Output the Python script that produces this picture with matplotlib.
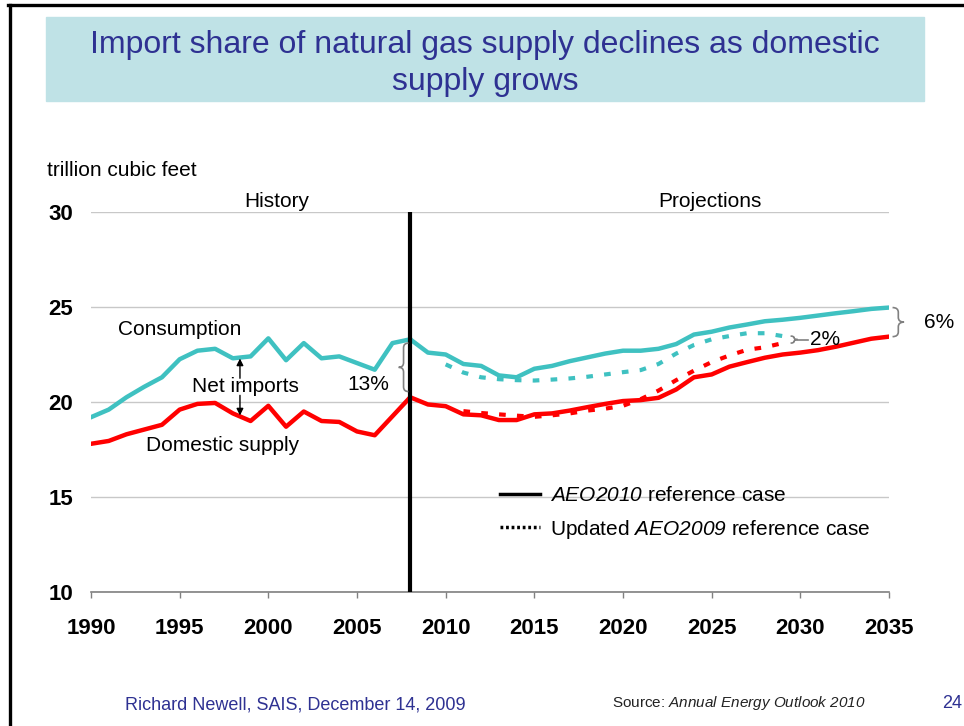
import numpy as np
import matplotlib
matplotlib.use("Agg")
import matplotlib.pyplot as plt
from matplotlib.path import Path
from matplotlib.patches import PathPatch, Rectangle
from matplotlib.lines import Line2D

plt.rcParams['font.family'] = ['Liberation Sans', 'DejaVu Sans']
plt.rcParams['mathtext.fontset'] = 'custom'
# math text is only used for the italic bits, so digits go italic too
plt.rcParams['mathtext.rm'] = 'Liberation Sans:italic'
plt.rcParams['mathtext.it'] = 'Liberation Sans:italic'

# history, trillion cubic feet
hist_years = list(range(1990, 2009))
consumption_hist = [19.2, 19.6, 20.25, 20.8, 21.3, 22.25, 22.7, 22.8, 22.3, 22.4,
                    23.35, 22.2, 23.1, 22.3, 22.4, 22.05, 21.7, 23.1, 23.3]
domestic_hist = [17.8, 17.95, 18.3, 18.55, 18.8, 19.6, 19.9, 19.95, 19.4, 19.0,
                 19.8, 18.7, 19.5, 19.0, 18.95, 18.45, 18.25, 19.25, 20.25]

# AEO2010 reference case
proj_years = list(range(2008, 2036))
consumption_2010 = [23.3, 22.6, 22.5, 22.0, 21.9, 21.4, 21.3, 21.75, 21.9, 22.15,
                    22.35, 22.55, 22.7, 22.7, 22.8, 23.05, 23.55, 23.7, 23.92, 24.08,
                    24.25, 24.33, 24.43, 24.55, 24.67, 24.78, 24.9, 24.97]
domestic_2010 = [20.25, 19.87, 19.78, 19.35, 19.3, 19.05, 19.05, 19.35, 19.4, 19.55,
                 19.73, 19.9, 20.05, 20.1, 20.22, 20.66, 21.3, 21.45, 21.86, 22.1,
                 22.33, 22.5, 22.6, 22.73, 22.91, 23.12, 23.33, 23.44]

# updated AEO2009 reference case
cons09_years = list(range(2010, 2030))
consumption_2009 = [21.98, 21.55, 21.3, 21.2, 21.15, 21.13, 21.18, 21.24, 21.33, 21.45,
                    21.57, 21.68, 22.0, 22.55, 23.0, 23.3, 23.47, 23.62, 23.62, 23.47]
dom09_years = list(range(2011, 2030))
domestic_2009 = [19.52, 19.42, 19.35, 19.28, 19.22, 19.3, 19.4, 19.55, 19.65, 19.8,
                 20.15, 20.6, 21.15, 21.65, 22.1, 22.45, 22.75, 22.88, 23.1]

x_ticks = list(range(1990, 2036, 5))
y_ticks = [10, 15, 20, 25, 30]

CYAN = '#3fc1c1'
RED = '#ff0000'
NAVY = '#2e3192'


def brace(ax, x, y0, y1, w, r=0.25, **kw):
    # curly brace with flat side at x, tip at x + w
    ym = (y0 + y1) / 2
    h = x + w / 2
    verts = [(x, y0), (h, y0), (h, y0 + r), (h, ym - r), (h, ym), (x + w, ym),
             (h, ym), (h, ym + r), (h, y1 - r), (h, y1), (x, y1)]
    codes = [Path.MOVETO, Path.CURVE3, Path.CURVE3, Path.LINETO, Path.CURVE3, Path.CURVE3,
             Path.CURVE3, Path.CURVE3, Path.LINETO, Path.CURVE3, Path.CURVE3]
    ax.add_patch(PathPatch(Path(verts, codes), fill=False, **kw))


fig = plt.figure(figsize=(9.64, 7.26), dpi=100)

# slide frame and title box
fig.add_artist(Line2D([8 / 964, 1], [1 - 4.5 / 726] * 2, color='black', lw=2.4))
fig.add_artist(Line2D([10 / 964] * 2, [0, 1 - 4.5 / 726], color='black', lw=2.4))
fig.add_artist(Rectangle((46 / 964, 1 - 101 / 726), 878 / 964, 84 / 726,
                         transform=fig.transFigure, color='#bfe2e6', zorder=0))
fig.text(485 / 964, 1 - 45 / 726, 'Import share of natural gas supply declines as domestic',
         ha='center', va='center', fontsize=23, color=NAVY)
fig.text(485 / 964, 1 - 82 / 726, 'supply grows', ha='center', va='center', fontsize=23, color=NAVY)

ax = fig.add_axes([91 / 964, 1 - 592 / 726, 798 / 964, 380 / 726])

ax.plot(cons09_years, consumption_2009, color=CYAN, lw=3, ls=(0, (1.6, 2.7)), zorder=2)
ax.plot(dom09_years, domestic_2009, color=RED, lw=3, ls=(0, (1.6, 2.7)), zorder=2)
ax.plot(hist_years, consumption_hist, color=CYAN, lw=3.2, zorder=3)
ax.plot(hist_years, domestic_hist, color=RED, lw=3.2, zorder=3)
ax.plot(proj_years, consumption_2010, color=CYAN, lw=3.2, zorder=3)
ax.plot(proj_years, domestic_2010, color=RED, lw=3.2, zorder=3)

ax.axvline(2008, color='black', lw=3, zorder=4)

ax.set_xlim(1990, 2035)
ax.set_ylim(10, 30)
ax.set_xticks(x_ticks)
ax.set_yticks(y_ticks)
ax.tick_params(axis='x', direction='out', length=4.5, width=1, color='#808080',
               labelsize=16, pad=14)
ax.tick_params(axis='y', length=0, labelsize=16, pad=13)
for lab in ax.get_xticklabels() + ax.get_yticklabels():
    lab.set_fontweight('bold')
for s in ['left', 'right', 'top']:
    ax.spines[s].set_visible(False)
ax.spines['bottom'].set_color('#808080')
ax.spines['bottom'].set_linewidth(1.2)
ax.yaxis.grid(True, color='#c8c8c8', lw=1)
ax.set_axisbelow(True)

fig.text(47 / 964, 1 - 170 / 726, 'trillion cubic feet', ha='left', va='center', fontsize=15)
ax.text(2000.5, 30.55, 'History', ha='center', va='center', fontsize=15)
ax.text(2024.9, 30.55, 'Projections', ha='center', va='center', fontsize=15)
ax.text(1995.0, 23.8, 'Consumption', ha='center', va='center', fontsize=15)
ax.text(1997.4, 17.7, 'Domestic supply', ha='center', va='center', fontsize=15)
ax.text(1998.7, 20.8, 'Net imports', ha='center', va='center', fontsize=15)

# net imports arrows
xa = 1998.4
ax.annotate('', xy=(xa, np.interp(xa, hist_years, consumption_hist) - 0.05), xytext=(xa, 21.25),
            arrowprops=dict(arrowstyle='-|>', color='black', lw=1, mutation_scale=10,
                            shrinkA=0, shrinkB=0))
ax.annotate('', xy=(xa, np.interp(xa, hist_years, domestic_hist) + 0.05), xytext=(xa, 20.35),
            arrowprops=dict(arrowstyle='-|>', color='black', lw=1, mutation_scale=10,
                            shrinkA=0, shrinkB=0))

# share braces
brace(ax, 2007.9, domestic_hist[-1] + 0.3, consumption_hist[-1] - 0.2, -0.55,
      color='#808080', lw=1.2, zorder=5)
ax.text(2005.65, 20.9, '13%', ha='center', va='center', fontsize=15)

brace(ax, 2035.2, domestic_2010[-1], consumption_2010[-1], 0.65,
      color='#808080', lw=1.2, clip_on=False)
ax.text(2037.8, 24.2, '6%', ha='center', va='center', fontsize=15)

brace(ax, 2029.45, domestic_2009[-1], consumption_2009[-1], 0.4, r=0.1,
      color='#808080', lw=1.2)
ym2 = (domestic_2009[-1] + consumption_2009[-1]) / 2
ax.plot([2029.85, 2030.45], [ym2, ym2], color='#808080', lw=1.2)
ax.text(2030.55, ym2, '2%', ha='left', va='center', fontsize=15)

handles = [Line2D([], [], color='black', lw=2.5),
           Line2D([], [], color='black', lw=2.5, ls=(0, (0.8, 0.8)))]
labels = [r'$AEO2010$ reference case', r'Updated $AEO2009$ reference case']
ax.legend(handles, labels, loc='center left', bbox_to_anchor=(0.5, 0.207), frameon=False,
          fontsize=15, handlelength=1.9, handletextpad=0.5, borderpad=0, labelspacing=0.6)

fig.text(125 / 964, 1 - 705 / 726, 'Richard Newell, SAIS, December 14, 2009',
         ha='left', va='center', fontsize=13, color=NAVY)
fig.text(612 / 964, 1 - 703 / 726, r'Source: $Annual\ Energy\ Outlook\ 2010$',
         ha='left', va='center', fontsize=11, color='#222222')
fig.text(952 / 964, 1 - 703 / 726, '24', ha='center', va='center', fontsize=13, color=NAVY)

fig.savefig('out.png', dpi=100)
